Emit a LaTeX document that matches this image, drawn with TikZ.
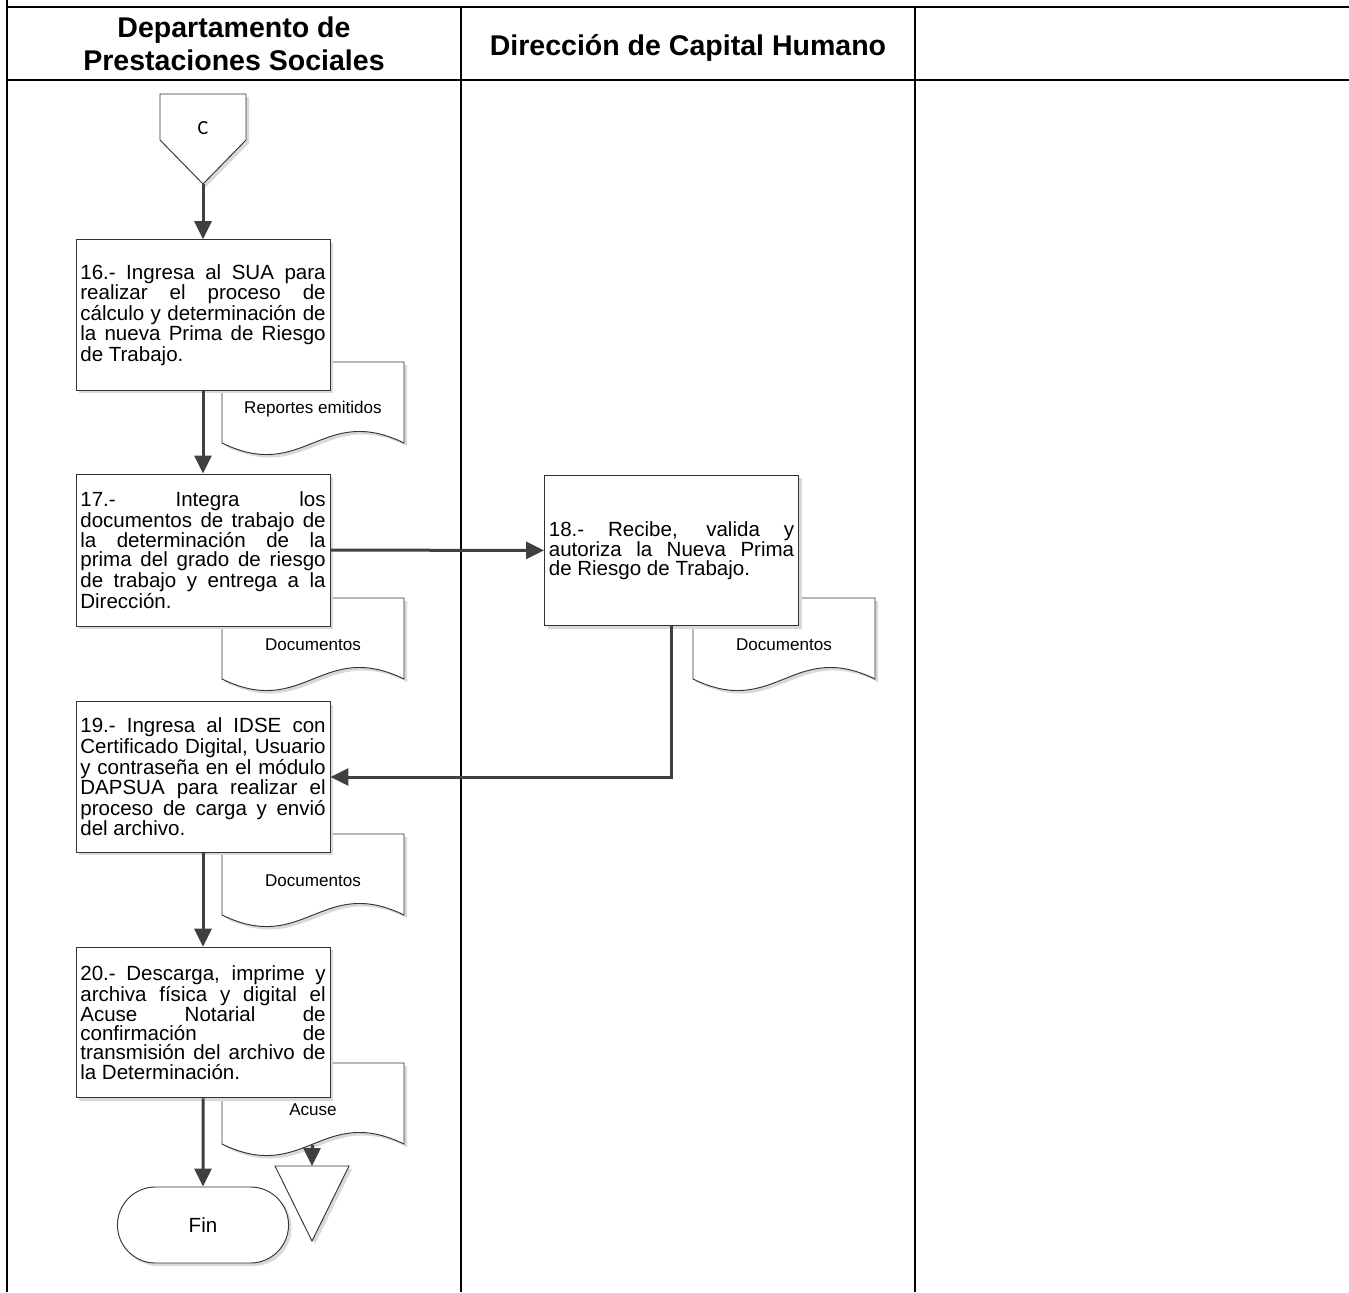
\documentclass[tikz,border=0pt]{standalone}
\usepackage{fontspec}
\setmainfont{Liberation Sans}
\newfontfamily\conectorfont{Carlito}
\usepackage{tikz}
\usetikzlibrary{arrows.meta,shapes.misc,shadows}

\tolerance=10000
\hbadness=10000
\hyphenpenalty=10000
\lineskiplimit=-20pt

\tikzset{
  carril/.style={line width=1.6pt, black},
  flujo/.style={line width=2.25pt, black!75, -{Triangle[width=12.75pt,length=13.5pt]}},
  sombra/.style={drop shadow={shadow xshift=2.25pt, shadow yshift=-2.25pt, fill=black!15, opacity=1}},
  forma/.style={draw=black!80, line width=0.7pt, fill=white, sombra},
  paso/.style={forma, rectangle, minimum width=190.5pt, minimum height=113pt,
    text width=184pt, inner xsep=3.25pt, align=justify, font=\fontsize{15.4}{14.3}\selectfont},
  titulo/.style={font=\bfseries\fontsize{21.4}{24.75}\selectfont, align=center},
  etiqueta/.style={font=\fontsize{12.8}{14}\selectfont}
}

\begin{document}
\begin{tikzpicture}[x=0.75pt, y=-0.75pt]
    \useasboundingbox (0,0) rectangle (1349,1292);

    % --- Swimlanes ---
    \draw[carril] (7,0) -- (7,1292);
    \draw[carril] (461,6.7) -- (461,1292);
    \draw[carril] (915,6.7) -- (915,1292);
    \draw[carril] (7,6.7) -- (1349,6.7);
    \draw[carril] (7,80) -- (1349,80);
    \node[titulo] (tit1) at (234,44.3) {Departamento de\\Prestaciones Sociales};
    \node[titulo, anchor=base] (tit2) at (688,55) {Dirección de Capital Humano};

    % --- Documents (behind the steps) ---
    \foreach \x/\y/\nombre/\txt in {222/362/docRep/Reportes emitidos, 222/598/docUno/Documentos,
        693/598/docDos/Documentos, 222/834/docTres/Documentos, 222/1063/docAcuse/Acuse} {
        \draw[forma] (\x,\y) -- ({\x+182},\y) -- ({\x+182},{\y+81})
            .. controls ({\x+100},{\y+41}) and ({\x+82},{\y+121}) .. (\x,{\y+81}) -- cycle;
        \node[etiqueta] (\nombre) at ({\x+91},{\y+47}) {\txt};
        \coordinate (\nombre-b) at ({\x+90},{\y+82});
    }

    % --- Off-page connector C ---
    \draw[forma] (160,94) -- (246,94) -- (246,140) -- (203,184) -- (160,140) -- cycle;
    \node[font=\conectorfont\fontsize{15}{18}\selectfont] (conC) at (203,128) {C};
    \coordinate (conC-tip) at (203,184);

    % --- Steps ---
    \node[paso] (p16) at (203,315) {16.- Ingresa al SUA para\linebreak realizar el proceso de\linebreak cálculo y determinación de\linebreak la nueva Prima de Riesgo\linebreak de Trabajo.};
    \node[paso, minimum height=114pt] (p17) at (203,550) {17.- Integra los\linebreak documentos de trabajo de\linebreak la determinación de la\linebreak prima del grado de riesgo\linebreak de trabajo y entrega a la\linebreak Dirección.};
    \node[paso] (p18) at (671.5,550.5) {18.- Recibe, valida y\linebreak autoriza la Nueva Prima\linebreak de Riesgo de Trabajo.};
    \node[paso] (p19) at (203,777) {19.- Ingresa al IDSE con\linebreak Certificado Digital, Usuario\linebreak y contraseña en el módulo\linebreak DAPSUA para realizar el\linebreak proceso de carga y envió\linebreak del archivo.};
    \node[paso] (p20) at (203,1022.5) {20.- Descarga, imprime y\linebreak archiva física y digital el\linebreak Acuse Notarial de\linebreak confirmación de\linebreak transmisión del archivo de\linebreak la Determinación.};

    % --- End and archive ---
    \node[forma, rounded rectangle, minimum width=135pt, minimum height=57pt,
        font=\fontsize{15.4}{18}\selectfont] (fin) at (203,1225) {Fin};
    \draw[forma] (275,1166) -- (349,1166) -- (312,1241) -- cycle;
    \coordinate (archivo) at (312,1166);

    % --- Flow ---
    \draw[flujo] (conC-tip) -- (p16);
    \draw[flujo] (p16) -- (p17);
    \draw[flujo] (p17) -- (p18);
    \draw[flujo] (p18) |- (p19);
    \draw[flujo] (p19) -- (p20);
    \draw[flujo] (p20) -- (fin);
    \draw[flujo] (docAcuse-b) -- (archivo);
\end{tikzpicture}
\end{document}
